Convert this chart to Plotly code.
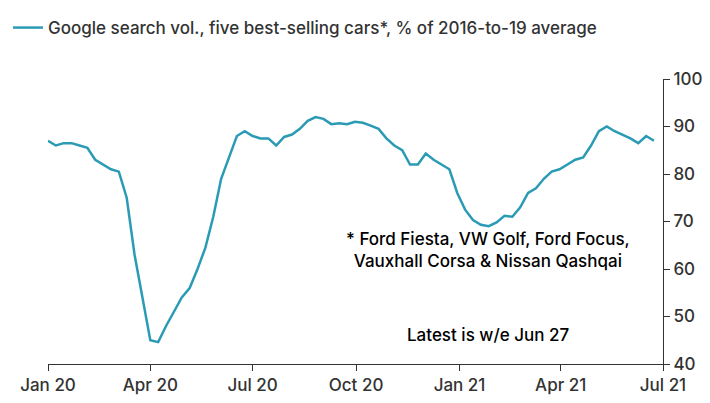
import pandas as pd
import plotly.graph_objects as go

# weekly search volume, % of 2016-19 average
values = [87, 86, 86.5, 86.5, 86, 85.5, 83, 82, 81, 80.5, 75, 63, 54, 45, 44.6,
          48, 51, 54, 56, 60, 64.5, 71, 79, 83.5, 88, 89, 88, 87.5, 87.5, 86,
          87.8, 88.3, 89.5, 91.2, 92, 91.6, 90.5, 90.7, 90.5, 91, 90.8, 90.2,
          89.5, 87.5, 86, 85, 82, 82, 84.3, 83, 82, 81, 76, 72.5, 70.3, 69.3,
          69, 69.8, 71.2, 71, 73, 76, 77, 79, 80.5, 81, 82, 83, 83.5, 86, 89,
          90, 89, 88.2, 87.5, 86.5, 88, 87]
dates = pd.date_range("2020-01-01", periods=len(values), freq="7D")

tick_vals = ["2020-01-01", "2020-04-01", "2020-07-01", "2020-10-01",
             "2021-01-01", "2021-04-01", "2021-07-01"]
tick_text = ["Jan 20", "Apr 20", "Jul 20", "Oct 20", "Jan 21", "Apr 21", "Jul 21"]

line_color = "#2b9bb5"
text_color = "#333333"
font_family = "Inter"

fig = go.Figure()
fig.add_trace(go.Scatter(x=dates, y=values, mode="lines",
                         line=dict(color=line_color, width=2.5),
                         name="Google search vol., five best-selling cars*, % of 2016-to-19 average"))

fig.add_annotation(x=0.715, y=0.32, xref="paper", yref="paper", xanchor="center",
                   showarrow=False, align="center",
                   text="* Ford Fiesta, VW Golf, Ford Focus,<br>Vauxhall Corsa & Nissan Qashqai",
                   font=dict(size=17, color="black", weight=500))
fig.add_annotation(x=0.715, y=0.06, xref="paper", yref="paper", xanchor="center",
                   showarrow=False, text="Latest is w/e Jun 27",
                   font=dict(size=17, color="black", weight=500))

fig.update_layout(
    width=710, height=403,
    margin=dict(l=40, r=55, t=71, b=47, autoexpand=False),
    paper_bgcolor="white", plot_bgcolor="white",
    font=dict(family=font_family, color=text_color, size=17, weight=500),
    showlegend=True,
    legend=dict(x=0.0, y=0.995, xref="container", yref="container",
                xanchor="left", yanchor="top",
                font=dict(size=17, color=text_color, weight=500)),
    xaxis=dict(range=["2020-01-01", "2021-07-01"], tickvals=tick_vals, ticktext=tick_text,
               showgrid=False, showline=True, linecolor=text_color, linewidth=1,
               ticks="outside", ticklen=6, tickcolor=text_color, automargin=False),
    yaxis=dict(range=[40, 100], side="right", dtick=10, showgrid=False,
               showline=True, linecolor=text_color, linewidth=1, automargin=False,
               ticks="outside", ticklen=6, tickcolor=text_color, zeroline=False),
)

fig.write_html("out.html")
